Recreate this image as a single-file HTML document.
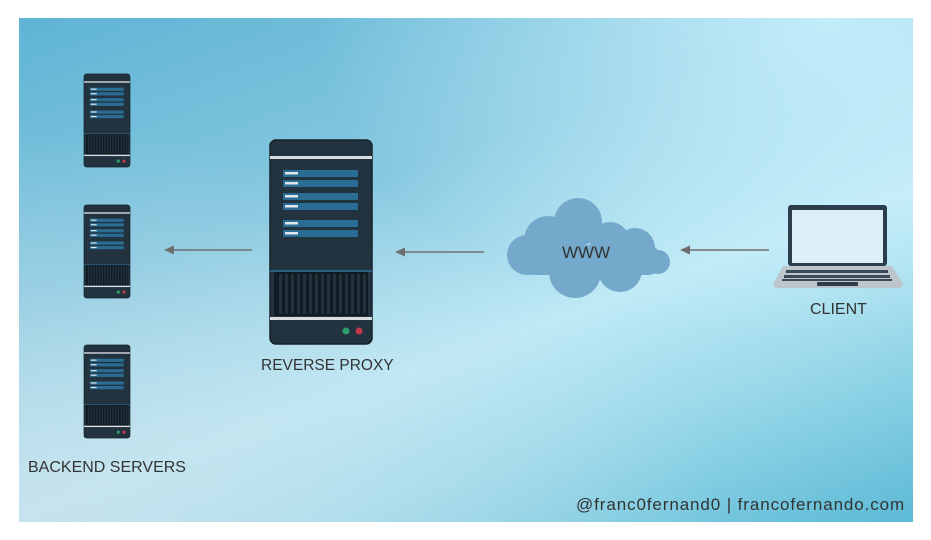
<!DOCTYPE html>
<html><head><meta charset="utf-8"><style>
html,body{margin:0;padding:0;background:#fff;}
body{width:931px;height:540px;position:relative;overflow:hidden;font-family:"Liberation Sans",sans-serif;}
#bg{position:absolute;left:19px;top:18px;width:894px;height:504px;
background:linear-gradient(160deg,#5fb4d4 0%,#86c8e0 35%,#bfeaf6 60%,#9fdbeb 75%,#5cbad6 100%);}
#bg2{position:absolute;left:19px;top:18px;width:894px;height:504px;
background:radial-gradient(ellipse at 0% 100%,rgba(200,225,235,0.8) 0%,rgba(200,225,235,0) 55%),radial-gradient(ellipse at 90% 0%,rgba(210,245,255,0.8) 0%,rgba(210,245,255,0) 45%);}
.t{position:absolute;color:#333;font-size:16px;white-space:nowrap;}
</style></head><body>
<div id="bg"></div><div id="bg2"></div>
<svg width="931" height="540" style="position:absolute;left:0;top:0">
<defs>
<g id="srv">
<rect x="0" y="0" width="102" height="204" rx="6" fill="#22333f" stroke="#14222b" stroke-width="1.5"/>
<rect x="0" y="16" width="102" height="3" fill="#d8dde0"/>
<rect x="13" y="30" width="75" height="7" fill="#2a6d94"/><rect x="15" y="32" width="13" height="2.5" fill="#e0e6ea"/>
<rect x="13" y="40" width="75" height="7" fill="#2a6d94"/><rect x="15" y="42" width="13" height="2.5" fill="#e0e6ea"/>
<rect x="13" y="53" width="75" height="7" fill="#2a6d94"/><rect x="15" y="55" width="13" height="2.5" fill="#e0e6ea"/>
<rect x="13" y="63" width="75" height="7" fill="#2a6d94"/><rect x="15" y="65" width="13" height="2.5" fill="#e0e6ea"/>
<rect x="13" y="80" width="75" height="7" fill="#2a6d94"/><rect x="15" y="82" width="13" height="2.5" fill="#e0e6ea"/>
<rect x="13" y="90" width="75" height="7" fill="#2a6d94"/><rect x="15" y="92" width="13" height="2.5" fill="#e0e6ea"/>
<rect x="0" y="130" width="102" height="2" fill="#2a6080"/>
<rect x="4" y="132" width="94" height="44" fill="#101b22"/>
<g fill="#22333f">
<rect x="9" y="134" width="3" height="40"/><rect x="15" y="134" width="3" height="40"/><rect x="21" y="134" width="3" height="40"/><rect x="27" y="134" width="3" height="40"/><rect x="33" y="134" width="3" height="40"/><rect x="39" y="134" width="3" height="40"/><rect x="45" y="134" width="3" height="40"/><rect x="51" y="134" width="3" height="40"/><rect x="57" y="134" width="3" height="40"/><rect x="63" y="134" width="3" height="40"/><rect x="69" y="134" width="3" height="40"/><rect x="75" y="134" width="3" height="40"/><rect x="81" y="134" width="3" height="40"/><rect x="87" y="134" width="3" height="40"/><rect x="93" y="134" width="3" height="40"/>
</g>
<rect x="0" y="177" width="102" height="3" fill="#d8dde0"/>
<circle cx="76" cy="191" r="3.5" fill="#2e9e6a"/><circle cx="89" cy="191" r="3.5" fill="#c0394e"/>
</g>
</defs>
<use href="#srv" transform="translate(270,140)"/>
<use href="#srv" transform="translate(84,74) scale(0.451,0.456)"/>
<use href="#srv" transform="translate(84,205) scale(0.451,0.456)"/>
<use href="#srv" transform="translate(84,345) scale(0.451,0.456)"/>
<g stroke="#707070" stroke-width="1.5">
<line x1="252" y1="250" x2="172" y2="250"/>
<line x1="484" y1="252" x2="403" y2="252"/>
<line x1="769" y1="250" x2="688" y2="250"/>
</g>
<g fill="#6e6e6e">
<path d="M164,250 L174,245.5 L174,254.5 Z"/>
<path d="M395,252 L405,247.5 L405,256.5 Z"/>
<path d="M680,250 L690,245.5 L690,254.5 Z"/>
</g>
<g fill="#74a9cb">
<circle cx="578" cy="222" r="24"/>
<circle cx="548" cy="240" r="24"/>
<circle cx="610" cy="242" r="20"/>
<circle cx="635" cy="248" r="20"/>
<circle cx="527" cy="255" r="20"/>
<circle cx="658" cy="262" r="12"/>
<circle cx="575" cy="272" r="26"/>
<circle cx="620" cy="270" r="22"/>
<rect x="520" y="245" width="140" height="30" rx="12"/>
</g>
<rect x="788" y="205" width="99" height="61" rx="3" fill="#2c3e4c"/>
<rect x="792" y="210" width="91" height="53" fill="#ddf0fa"/>
<path d="M783,266 L892,266 L903,284 Q903,288 898,288 L778,288 Q773,288 773,284 Z" fill="#bcc6cc"/>
<g fill="#3a4a56">
<rect x="786" y="270" width="102" height="3"/><rect x="784" y="275" width="106" height="3"/><rect x="782" y="279" width="110" height="2"/>
</g>
<rect x="817" y="282" width="41" height="4" rx="1" fill="#2c3e4c"/>
</svg>
<div class="t" style="left:562px;top:243px;font-size:17px">WWW</div>
<div class="t" style="left:810px;top:301px">CLIENT</div>
<div class="t" style="left:261px;top:357px;font-size:15.5px">REVERSE PROXY</div>
<div class="t" style="left:28px;top:459px">BACKEND SERVERS</div>
<div class="t" style="left:576px;top:495px;font-size:17px;letter-spacing:0.9px">@franc0fernand0 | francofernando.com</div>
</body></html>
